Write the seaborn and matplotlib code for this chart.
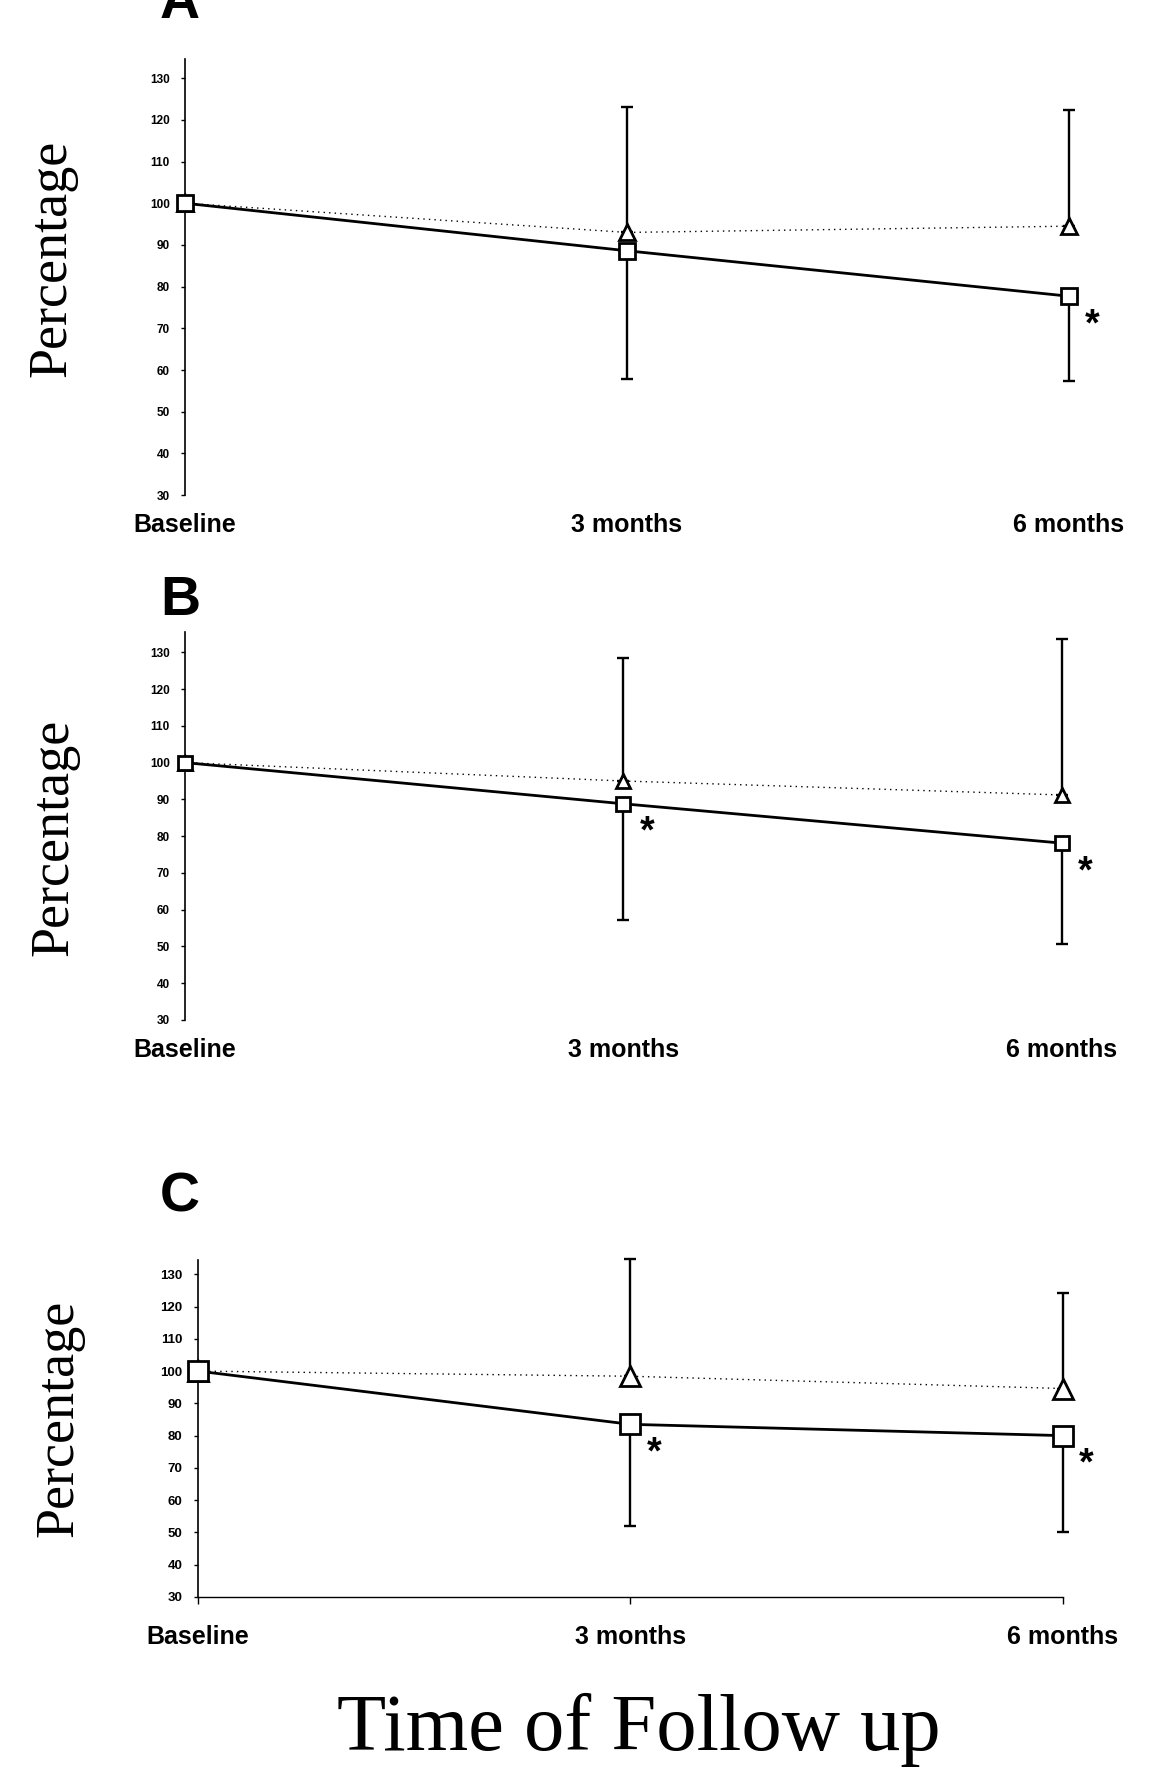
import numpy as np
import matplotlib

matplotlib.use("Agg")
import matplotlib.pyplot as plt
import seaborn as sns

# categories on the x axis
time_points = ["Baseline", "3 months", "6 months"]

# panel A
a_tri_mean = [100, 93.0, 94.5]
a_tri_sd = [0, 30.0, 27.8]
a_sq_mean = [100, 88.6, 77.7]
a_sq_sd = [0, 30.7, 20.3]
a_signif = [False, False, True]

# panel B
b_tri_mean = [100, 95.0, 91.2]
b_tri_sd = [0, 33.5, 42.5]
b_sq_mean = [100, 88.8, 78.1]
b_sq_sd = [0, 31.6, 27.3]
b_signif = [False, True, True]

# panel C
c_tri_mean = [100, 98.4, 94.6]
c_tri_sd = [0, 36.2, 29.6]
c_sq_mean = [100, 83.5, 80.0]
c_sq_sd = [0, 31.6, 29.8]
c_signif = [False, True, True]

y_ticks = list(range(30, 131, 10))

sns.set_style("white")
plt.rcParams["font.family"] = ["Liberation Sans", "DejaVu Sans"]
plt.rcParams["text.color"] = "black"
plt.rcParams["xtick.color"] = "black"
plt.rcParams["ytick.color"] = "black"
plt.rcParams["axes.labelcolor"] = "black"

fig = plt.figure(figsize=(11.64, 17.77), dpi=100)

# (label, tri, tri_sd, sq, sq_sd, signif, rect, ytop, ticksize, marker size,
#  show x axis, label baseline, ylabel baseline x, ylabel center y)
panels = [
    ("A", a_tri_mean, a_tri_sd, a_sq_mean, a_sq_sd, a_signif,
     [0.1589, 0.7214, 0.7595, 0.2454], 134.6, 8.5, 11, False, 18, 65, 258),
    ("B", b_tri_mean, b_tri_sd, b_sq_mean, b_sq_sd, b_signif,
     [0.1589, 0.4260, 0.7534, 0.2183], 135.5, 8.5, 10, False, 615, 67, 837),
    ("C", c_tri_mean, c_tri_sd, c_sq_mean, c_sq_sd, c_signif,
     [0.1701, 0.1013, 0.7431, 0.1896], 134.4, 9.5, 14, True, 1212, 72, 1418),
]

W, H = 1164, 1777
xpos = np.arange(len(time_points))

for (lab, tri, tri_sd, sq, sq_sd, sig, rect, ytop, tsize, ms,
     show_x, lab_y, ylab_x, ylab_y) in panels:
    ax = fig.add_axes(rect)

    # error bars: control goes up, treatment goes down
    ax.errorbar(xpos[1:], tri[1:], yerr=[np.zeros(2), tri_sd[1:]], fmt="none",
                ecolor="black", elinewidth=1.7, capsize=4, capthick=1.7,
                clip_on=False, zorder=2)
    ax.errorbar(xpos[1:], sq[1:], yerr=[sq_sd[1:], np.zeros(2)], fmt="none",
                ecolor="black", elinewidth=1.7, capsize=4, capthick=1.7,
                clip_on=False, zorder=2)

    sns.lineplot(x=xpos, y=tri, ax=ax, color="black", linewidth=1.0,
                 linestyle=(0, (1, 3)), marker="^", markersize=ms,
                 markerfacecolor="white", markeredgecolor="black",
                 markeredgewidth=2.0, clip_on=False, zorder=3)
    sns.lineplot(x=xpos, y=sq, ax=ax, color="black", linewidth=2.0,
                 marker="s", markersize=ms, markerfacecolor="white",
                 markeredgecolor="black", markeredgewidth=2.0,
                 clip_on=False, zorder=4)

    for i, flag in enumerate(sig):
        if flag:
            ax.annotate("*", xy=(xpos[i], sq[i]), xytext=(17, -21),
                        textcoords="offset points", ha="center", va="center",
                        fontsize=27, fontweight="bold")

    ax.set_xlim(0, 2)
    ax.set_ylim(30, ytop)
    ax.set_yticks(y_ticks)
    ax.set_yticklabels([str(t) for t in y_ticks], fontsize=tsize,
                       fontweight="bold")
    ax.set_xticks(xpos)
    ax.set_xticklabels(time_points, fontsize=18, fontweight="bold")
    ax.tick_params(axis="y", direction="out", length=3, width=1, pad=8,
                   left=True)
    for s in ["top", "right"]:
        ax.spines[s].set_visible(False)
    ax.spines["left"].set_linewidth(1.2)
    ax.spines["left"].set_color("black")
    if show_x:
        ax.spines["bottom"].set_linewidth(1.0)
        ax.spines["bottom"].set_color("black")
        ax.tick_params(axis="x", direction="out", length=5, width=1, pad=15,
                       bottom=True)
    else:
        ax.spines["bottom"].set_visible(False)
        ax.tick_params(axis="x", length=0, pad=13)
    ax.set_xlabel("")
    ax.set_ylabel("")

    fig.text(180 / W, 1 - lab_y / H, lab, fontsize=40, fontweight="bold",
             ha="center", va="baseline")
    fig.text(ylab_x / W, 1 - ylab_y / H, "Percentage", rotation=90,
             rotation_mode="anchor", ha="center", va="baseline", fontsize=39,
             family=["Liberation Serif", "DejaVu Serif"])

fig.text(639 / W, 1 - 1750 / H, "Time of Follow up", ha="center",
         va="baseline", fontsize=58, family=["Liberation Serif", "DejaVu Serif"])

plt.savefig("out.png", dpi=100)
plt.close()
